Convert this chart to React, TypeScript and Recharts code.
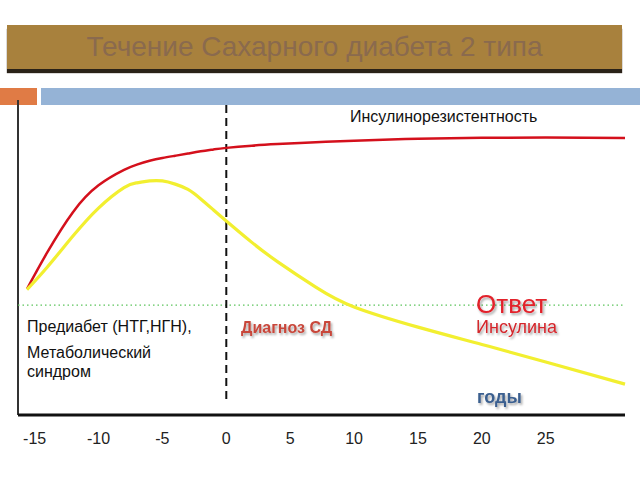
import { LineChart, Line, XAxis, YAxis, ReferenceLine } from "recharts";

// years since diagnosis (x) and curve heights (0..100, relative units)
const years = [-15.6, -14, -12, -10, -8, -7, -6, -5, -4, -3, -2, -1, 0, 2, 4, 7, 10, 15, 20, 25, 31.2];
const insulinResistance = [40.0, 51.7, 64.4, 72.9, 77.8, 79.5, 80.7, 81.6, 82.3, 83.0, 83.7, 84.3, 84.8, 85.5, 86.0, 86.6, 87.1, 87.7, 88.0, 88.1, 87.9];
const insulinResponse = [39.8, 47.0, 56.8, 65.7, 72.2, 73.7, 74.3, 74.3, 73.3, 71.6, 68.6, 65.1, 61.6, 54.8, 48.7, 40.6, 34.3, 27.9, 22.4, 16.8, 9.8];
const xTicks = [-15, -10, -5, 0, 5, 10, 15, 20, 25];

const data = years.map((year, i) => ({
  year,
  resistance: insulinResistance[i],
  response: insulinResponse[i],
}));

const FONT = '"Liberation Sans", Arial, sans-serif';

export default function App() {
  return (
    <div
      style={{
        position: "absolute",
        left: 0,
        top: 0,
        width: 640,
        height: 480,
        background: "#fff",
        fontFamily: FONT,
        overflow: "hidden",
      }}
    >
      {/* title bar */}
      <div
        style={{
          position: "absolute",
          left: 7,
          top: 25,
          width: 615,
          height: 44,
          background: "#a8813d",
          boxShadow: "0 4px 1px #2a2218",
          display: "flex",
          alignItems: "center",
          justifyContent: "center",
          color: "#8a6a4e",
          fontSize: 28,
        }}
      >
        Течение Сахарного диабета 2 типа
      </div>
      <div style={{ position: "absolute", left: 0, top: 88, width: 37, height: 17, background: "#e07b45" }} />
      <div style={{ position: "absolute", left: 41, top: 88, width: 599, height: 17, background: "#95b3d6" }} />

      <div style={{ position: "absolute", left: 0, top: 0 }}>
        <LineChart width={640} height={480} data={data} margin={{ top: 100, right: 15, left: 18, bottom: 25 }}>
          <XAxis
            dataKey="year"
            type="number"
            domain={[-16.3, 30.9]}
            ticks={xTicks}
            height={40}
            tickSize={0}
            tickMargin={18}
            axisLine={{ stroke: "#111", strokeWidth: 3 }}
            tick={{ fontSize: 16, fill: "#222", fontFamily: FONT }}
          />
          <YAxis type="number" domain={[0, 100]} hide />
          <ReferenceLine x={-16.3} stroke="#333" strokeWidth={2} />
          <ReferenceLine y={34.9} stroke="#5cc45c" strokeDasharray="1.5 3" strokeWidth={1.2} />
          <ReferenceLine
            segment={[
              { x: 0, y: 98.4 },
              { x: 0, y: 4.8 },
            ]}
            stroke="#111"
            strokeWidth={2}
            strokeDasharray="8 5"
          />
          <Line
            type="natural"
            dataKey="resistance"
            stroke="#d4101c"
            strokeWidth={2.5}
            dot={false}
            isAnimationActive={false}
          />
          <Line
            type="natural"
            dataKey="response"
            stroke="#f2ef30"
            strokeWidth={3.2}
            dot={false}
            isAnimationActive={false}
          />
        </LineChart>
      </div>

      {/* annotations */}
      <svg width={640} height={480} style={{ position: "absolute", left: 0, top: 0, pointerEvents: "none" }}>
        <defs>
          <filter id="shadow" x="-10%" y="-30%" width="130%" height="170%">
            <feDropShadow dx="1.5" dy="2" stdDeviation="1.2" floodColor="#000" floodOpacity="0.35" />
          </filter>
        </defs>
        <g fontFamily={FONT}>
          <text x={350} y={121.5} fontSize={16} fill="#111">Инсулинорезистентность</text>
          <text x={27} y={332} fontSize={16} fill="#111">Предиабет (НТГ,НГН),</text>
          <text x={27} y={358} fontSize={16} fill="#111">Метаболический</text>
          <text x={27} y={376.5} fontSize={16} fill="#111">синдром</text>
          <text x={241} y={333} fontSize={16} fontWeight="bold" fill="#c8463a" filter="url(#shadow)">
            Диагноз СД
          </text>
          <text x={476} y={313} fontSize={26} fill="#e2202a" filter="url(#shadow)">Ответ</text>
          <text x={476} y={333} fontSize={18} fill="#d4262c" filter="url(#shadow)">Инсулина</text>
          <text x={477} y={403} fontSize={18} fontWeight="bold" fill="#3b5f8f" filter="url(#shadow)">годы</text>
        </g>
      </svg>
    </div>
  );
}
